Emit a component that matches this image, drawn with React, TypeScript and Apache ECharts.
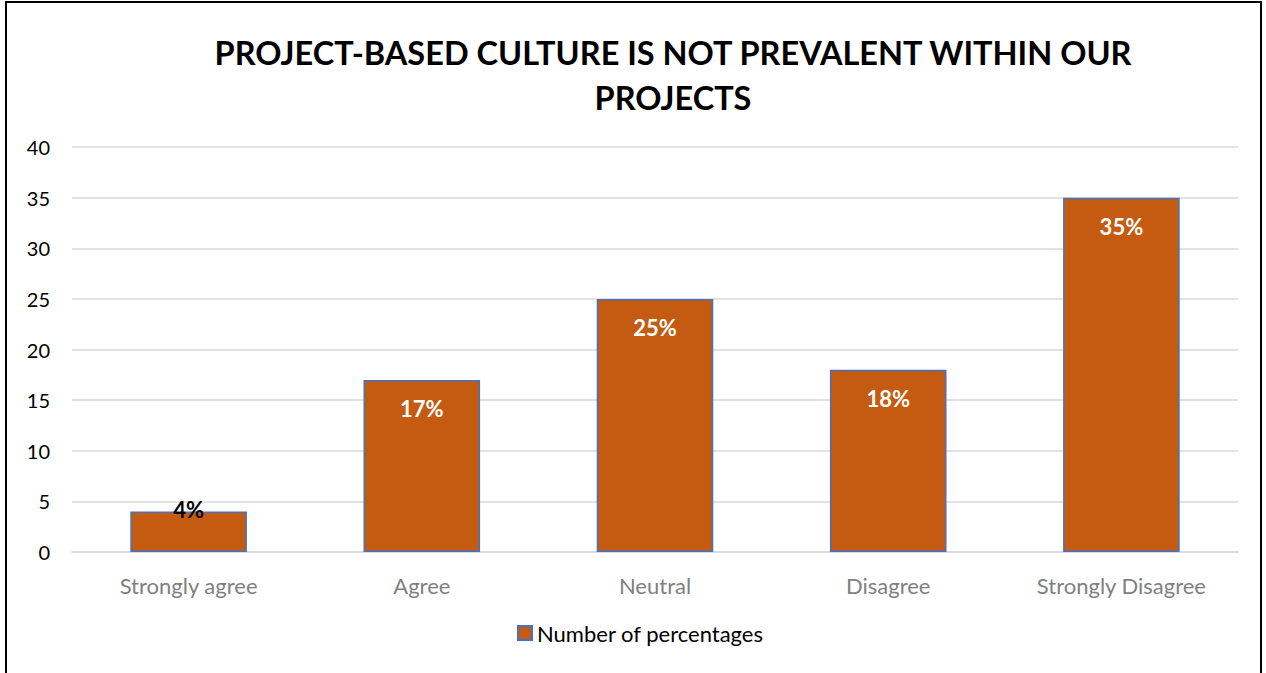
import React, { useEffect, useRef } from "react";
import * as echarts from "echarts";

const categories = ["Strongly agree", "Agree", "Neutral", "Disagree", "Strongly Disagree"];
const values = [4, 17, 25, 18, 35];
const seriesName = "Number of percentages";
const titleText = "PROJECT-BASED CULTURE IS NOT PREVALENT WITHIN OUR\nPROJECTS";

export default function App() {
  const ref = useRef<HTMLDivElement>(null);
  useEffect(() => {
    if (!ref.current) return;
    const chart = echarts.init(ref.current, null, { renderer: "svg" });
    const font = "Lato, 'Open Sans', sans-serif";
    chart.setOption({
      animation: false,
      backgroundColor: "#ffffff",
      textStyle: { fontFamily: font },
      title: {
        text: titleText,
        top: 25,
        left: 668,
        textAlign: "center",
        textStyle: {
          fontFamily: font,
          fontSize: 32.5,
          fontWeight: "bold",
          color: "#000000",
          lineHeight: 45,
        },
      },
      graphic: [
        {
          type: "rect",
          shape: { x: 6, y: 2, width: 1255, height: 700 },
          style: { fill: "none", stroke: "#000000", lineWidth: 2 },
          silent: true,
        },
      ],
      grid: { left: 72, right: 28, top: 147, bottom: 121, containLabel: false },
      legend: {
        bottom: 24,
        left: 512,
        itemWidth: 14,
        itemHeight: 14,
        itemGap: 6,
        textStyle: { fontFamily: font, fontSize: 22, color: "#000000" },
        data: [{ name: seriesName, icon: "rect" }],
      },
      xAxis: {
        type: "category",
        data: categories,
        axisLine: { lineStyle: { color: "#d9d9d9", width: 1.5 } },
        axisTick: { show: false },
        axisLabel: { fontFamily: font, fontSize: 22, color: "#7f7f7f", margin: 22 },
      },
      yAxis: {
        type: "value",
        min: 0,
        max: 40,
        interval: 5,
        axisLine: { show: false },
        axisTick: { show: false },
        splitLine: { lineStyle: { color: "#d9d9d9", width: 1.5 } },
        axisLabel: { fontFamily: font, fontSize: 20, color: "#000000", margin: 22 },
      },
      series: [
        {
          name: seriesName,
          type: "bar",
          barCategoryGap: "50%",
          itemStyle: { color: "#C55A11", borderColor: "#4472C4", borderWidth: 1.5 },
          label: {
            show: true,
            position: "insideTop",
            distance: 18,
            formatter: "{c}%",
            fontFamily: font,
            fontSize: 22,
            fontWeight: "bold",
            color: "#ffffff",
          },
          data: values.map((v, i) =>
            i === 0
              ? { value: v, label: { position: "top", distance: -9, color: "#000000" } }
              : v
          ),
        },
      ],
    });
    return () => chart.dispose();
  }, []);
  return (
    <div
      ref={ref}
      style={{ position: "fixed", left: 0, top: 0, width: 1266, height: 673 }}
    />
  );
}
